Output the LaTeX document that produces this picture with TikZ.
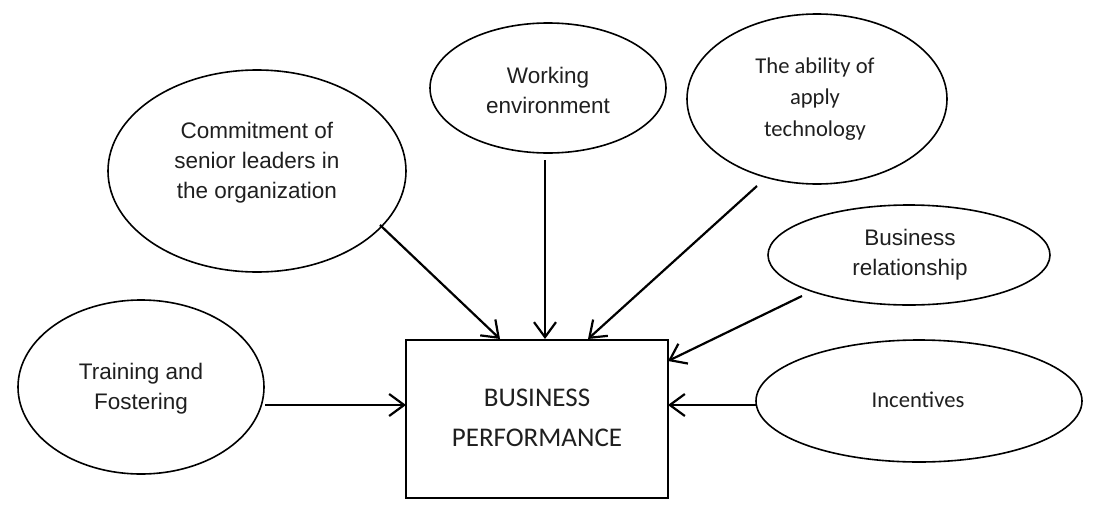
\documentclass[tikz,border=0pt]{standalone}
\usepackage{fontspec}
\newfontfamily\arialf{Liberation Sans}
\newfontfamily\calf{Carlito}
\usetikzlibrary{arrows.meta,shapes.geometric}
\begin{document}
\begin{tikzpicture}[x=1pt,y=-1pt,
  oval/.style={draw,ellipse,line width=1.6pt,inner sep=0pt},
  lbl/.style={align=center,text=black!88},
  afont/.style={font=\arialf\fontsize{22.5}{30}\selectfont},
  cfont/.style={font=\calf\fontsize{22.6}{31.5}\selectfont},
  conn/.style={line width=2.2pt,-{Straight Barb[length=15pt,width=22pt,line width=2.2pt]}}]
\useasboundingbox (0,0) rectangle (1095,517);
% ellipses
\node[oval,minimum width=298pt,minimum height=202pt] (e1) at (257,171) {};
\node[oval,minimum width=236pt,minimum height=130pt] (e2) at (548,88) {};
\node[oval,minimum width=260pt,minimum height=170pt] (e3) at (817,99) {};
\node[oval,minimum width=282pt,minimum height=100pt] (e4) at (909,255) {};
\node[oval,minimum width=326pt,minimum height=122pt] (e5) at (919,401) {};
\node[oval,minimum width=246pt,minimum height=174pt] (e6) at (141,387) {};
% box
\node[draw,line width=2pt,minimum width=262pt,minimum height=158pt,inner sep=0pt] (box) at (537,419) {};
% labels
\node[lbl,afont] (t1) at (257,162.5) {Commitment of\\senior leaders in\\the organization};
\node[lbl,afont] (t2) at (548,90) {Working\\environment};
\node[lbl,cfont] (t3) at (815,99) {The ability of\\apply\\technology};
\node[lbl,afont] (t4) at (910,255) {Business\\relationship};
\node[lbl,cfont] (t5) at (918,400) {Incentives};
\node[lbl,afont] (t6) at (141,388.5) {Training and\\Fostering};
\node[lbl,font=\calf\fontsize{27}{40}\selectfont] (tb) at (537,418) {BUSINESS\\PERFORMANCE};
% connector endpoints
\coordinate (s1) at (380,225);
\coordinate (d1) at (500,339);
\coordinate (s2) at (545,160);
\coordinate (d2) at (545,339);
\coordinate (s3) at (757,186);
\coordinate (d3) at (588,339);
\coordinate (s4) at (802,296);
\coordinate (d4) at (668,361);
\coordinate (s5) at (756,405);
\coordinate (d5) at (668,405);
\coordinate (s6) at (265,405);
\coordinate (d6) at (406,405);
\draw[conn] (s1) -- (d1);
\draw[conn] (s2) -- (d2);
\draw[conn] (s3) -- (d3);
\draw[conn] (s4) -- (d4);
\draw[conn] (s5) -- (d5);
\draw[conn] (s6) -- (d6);
\end{tikzpicture}
\end{document}
